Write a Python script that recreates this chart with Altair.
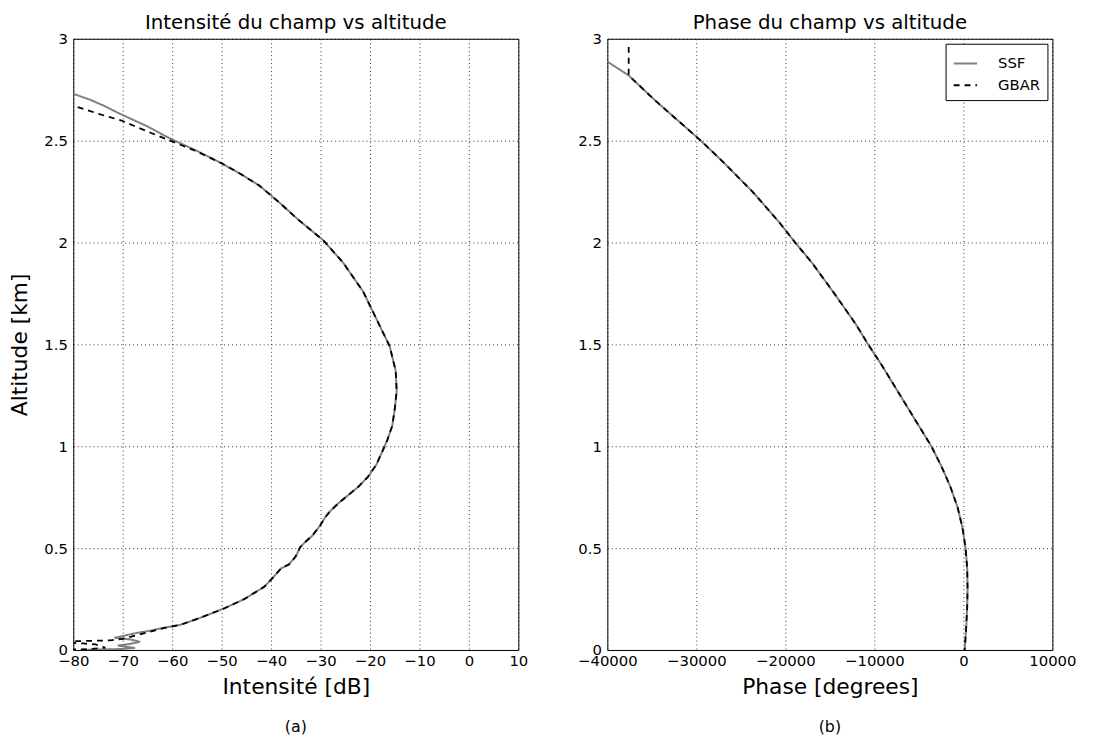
import altair as alt
import pandas as pd

# ---------------- data ----------------
series_names = ["SSF", "GBAR"]

# Panel (a): intensity [dB] vs altitude [km]
ssf_int_alt = [2.73, 2.70, 2.67, 2.63, 2.57, 2.51, 2.45, 2.39, 2.34, 2.28, 2.20, 2.11, 2.01,
               1.90, 1.76, 1.61, 1.49, 1.37, 1.27, 1.18, 1.10, 1.03, 0.98, 0.91, 0.85, 0.80,
               0.76, 0.72, 0.68, 0.65, 0.61, 0.56, 0.53, 0.505, 0.47, 0.456, 0.42, 0.40, 0.35,
               0.31, 0.25, 0.205, 0.157, 0.123, 0.108, 0.095, 0.084, 0.068, 0.060, 0.052,
               0.040, 0.030, 0.022, 0.016, 0.010, 0.005, 0.0]
ssf_int_db = [-80.0, -76.5, -73.7, -70.4, -65.0, -60.4, -55.0, -50.1, -46.4, -42.4, -38.5, -34.4, -29.4,
              -25.4, -21.4, -18.4, -16.0, -14.8, -14.6, -15.0, -15.5, -16.5, -17.4, -18.7, -20.4, -22.4,
              -24.4, -26.4, -28.1, -29.1, -30.1, -31.7, -33.1, -34.1, -34.8, -35.1, -36.4, -38.0, -39.8,
              -41.4, -45.4, -49.4, -54.4, -58.4, -62.0, -64.4, -67.1, -70.1, -71.7, -68.5,
              -66.5, -68.5, -71.0, -69.5, -67.5, -70.0, -78.0]

gbar_int_alt = [2.665, 2.63, 2.60, 2.55, 2.50, 2.45, 2.39, 2.34, 2.28, 2.20, 2.11, 2.01,
                1.90, 1.76, 1.61, 1.49, 1.37, 1.27, 1.18, 1.10, 1.03, 0.98, 0.91, 0.85, 0.80,
                0.76, 0.72, 0.68, 0.65, 0.61, 0.56, 0.53, 0.505, 0.47, 0.456, 0.42, 0.40, 0.35,
                0.31, 0.25, 0.205, 0.157, 0.123, 0.108, 0.090, 0.070, 0.055, 0.047, 0.044,
                0.042, 0.032, 0.027, 0.011, 0.004, 0.0]
gbar_int_db = [-79.1, -74.7, -70.4, -65.5, -60.4, -55.3, -50.1, -46.4, -42.4, -38.5, -34.4, -29.4,
               -25.4, -21.4, -18.4, -16.0, -14.8, -14.6, -15.0, -15.5, -16.5, -17.4, -18.7, -20.4, -22.4,
               -24.4, -26.4, -28.1, -29.1, -30.1, -31.7, -33.1, -34.1, -34.8, -35.1, -36.4, -38.0, -39.8,
               -41.4, -45.4, -49.4, -54.4, -58.4, -61.5, -64.4, -67.5, -70.0, -72.5, -78.0,
               -85.0, -78.0, -75.5, -73.5, -77.0, -85.0]

# Panel (b): phase [degrees] vs altitude [km]
ssf_ph_alt = [2.888, 2.82, 2.70, 2.60, 2.50, 2.40, 2.25, 2.10, 2.00, 1.90, 1.75, 1.60, 1.50,
              1.40, 1.30, 1.20, 1.10, 1.00, 0.90, 0.80, 0.70, 0.60, 0.50, 0.40, 0.30, 0.20,
              0.10, 0.0]
ssf_ph_deg = [-40000, -37600, -34700, -32100, -29500, -27100, -23700, -20700, -18900, -17000,
              -14500, -12100, -10700, -9200, -7800, -6400, -5000, -3600, -2450, -1450, -650,
              -100, 250, 430, 470, 420, 300, 150]

gbar_ph_alt = [2.96, 2.82, 2.70, 2.60, 2.50, 2.40, 2.25, 2.10, 2.00, 1.90, 1.75, 1.60, 1.50,
               1.40, 1.30, 1.20, 1.10, 1.00, 0.90, 0.80, 0.70, 0.60, 0.50, 0.40, 0.30, 0.20,
               0.10, 0.0]
gbar_ph_deg = [-37600, -37600, -34700, -32100, -29500, -27100, -23700, -20700, -18900, -17000,
               -14500, -12100, -10700, -9200, -7800, -6400, -5000, -3600, -2450, -1450, -650,
               -100, 250, 430, 470, 420, 300, 150]

y_ticks = [0, 0.5, 1, 1.5, 2, 2.5, 3]
x_ticks_a = [-80, -70, -60, -50, -40, -30, -20, -10, 0, 10]
x_ticks_b = [-40000, -30000, -20000, -10000, 0, 10000]
panel_labels = ["(a)", "(b)"]
titles = ["Intensité du champ vs altitude", "Phase du champ vs altitude"]
x_titles = ["Intensité [dB]", "Phase [degrees]"]


def frame(alts, vals, name):
    return pd.DataFrame({"alt": alts, "val": vals, "series": name,
                         "idx": list(range(len(alts)))})


W, H = 450, 618
FONT = "DejaVu Sans"

color_scale = alt.Scale(domain=series_names, range=["#808080", "#000000"])
dash_scale = alt.Scale(domain=series_names, range=[[1, 0], [6, 5]])


def panel(df_ssf, df_gbar, xdom, xticks, xfmt, title, xtitle, ytitle, label, show_legend):
    x_enc = alt.X("val:Q", scale=alt.Scale(domain=xdom, nice=False, zero=False),
                  axis=alt.Axis(values=xticks, format=xfmt, title=xtitle))
    y_enc = alt.Y("alt:Q", scale=alt.Scale(domain=[0, 3], nice=False),
                  axis=alt.Axis(values=y_ticks, format="~g", title=ytitle))
    if show_legend:
        leg = alt.Legend(title=None, orient="top-right", offset=5, strokeColor="black",
                         fillColor="white", padding=7, labelFontSize=15, labelFont=FONT,
                         labelColor="black",
                         symbolType="stroke", symbolSize=560, symbolStrokeWidth=2,
                         rowPadding=1, labelOffset=20, cornerRadius=0)
    else:
        leg = None
    col = alt.Color("series:N", scale=color_scale, legend=leg)
    dash = alt.StrokeDash("series:N", scale=dash_scale, legend=leg)
    l1 = alt.Chart(df_ssf).mark_line(strokeWidth=2, clip=True).encode(
        x=x_enc, y=y_enc, color=col, strokeDash=dash, order=alt.Order("idx:Q"))
    l2 = alt.Chart(df_gbar).mark_line(strokeWidth=1.8, clip=True).encode(
        x=x_enc, y=y_enc, color=col, strokeDash=dash, order=alt.Order("idx:Q"))
    lab = alt.Chart(pd.DataFrame({"t": [label]})).mark_text(
        fontSize=16, font=FONT, color="black", baseline="middle", align="center").encode(
        x=alt.value(W / 2), y=alt.value(696), text="t:N")
    return alt.layer(l1, l2, lab).properties(
        width=W, height=H,
        title=alt.TitleParams(title, fontSize=20, fontWeight="normal", font=FONT,
                              anchor="middle", offset=-1, color="black"))


left = panel(frame(ssf_int_alt, ssf_int_db, "SSF"), frame(gbar_int_alt, gbar_int_db, "GBAR"),
             [-80, 10], x_ticks_a, "d", titles[0], x_titles[0], "Altitude [km]",
             panel_labels[0], False)
right = panel(frame(ssf_ph_alt, ssf_ph_deg, "SSF"), frame(gbar_ph_alt, gbar_ph_deg, "GBAR"),
              [-40000, 10000], x_ticks_b, "d", titles[1], x_titles[1], None,
              panel_labels[1], True)

chart = alt.hconcat(left, right, spacing=90, bounds="flush").resolve_scale(
    x="independent", y="independent", color="independent", strokeDash="independent"
).resolve_legend(
    color="independent", strokeDash="independent"
).properties(
    padding={"left": 0, "top": 0, "right": 10, "bottom": 10},
).configure(font=FONT).configure_view(
    stroke="black", strokeWidth=1
).configure_axis(
    labelFont=FONT, labelFontSize=15, labelColor="black", labelFlush=False,
    titleFont=FONT, titleFontSize=22, titleFontWeight="normal", titleColor="black",
    ticks=False, domain=False,
    grid=True, gridColor="black", gridDash=[1, 3], gridOpacity=0.8, gridWidth=1,
).configure_axisX(titlePadding=8, labelPadding=4).configure_axisY(titlePadding=12, labelPadding=6)

chart.save("out.html", embed_options={"renderer": "svg", "actions": False})
